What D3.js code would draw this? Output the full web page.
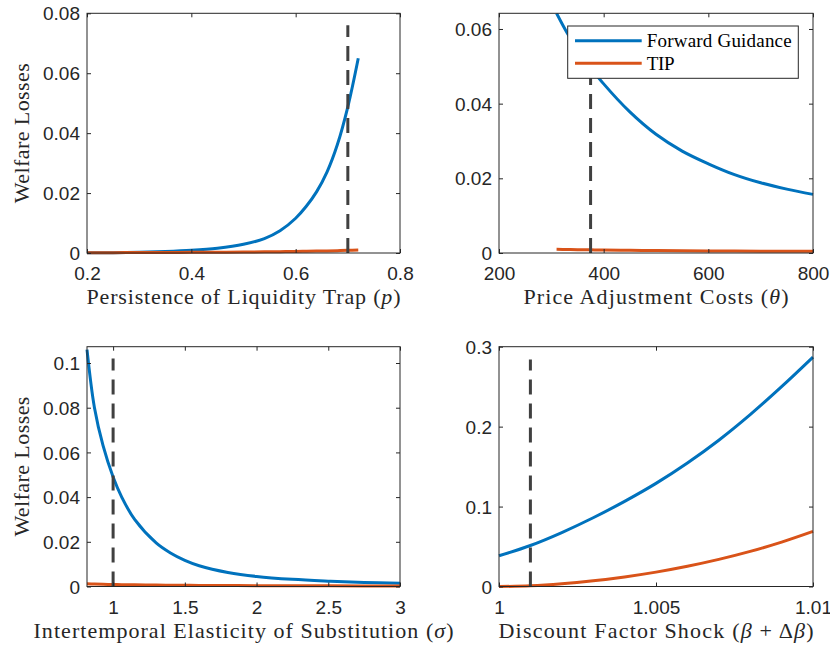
<!DOCTYPE html>
<html>
<head>
<meta charset="utf-8">
<script src="https://cdn.jsdelivr.net/npm/d3@7"></script>
<style>
  body { margin: 0; background: #fff; }
  svg { display: block; }
  .tick text { font-family: 'Liberation Sans', Arial, sans-serif; font-size: 19px; fill: #262626; }
  .tick line { stroke: #262626; stroke-width: 1; }
  .label { font-family: 'Liberation Serif', 'Times New Roman', serif; font-size: 22px; fill: #262626; }
  .legend text { font-family: 'Liberation Serif', 'Times New Roman', serif; font-size: 19px; fill: #000; }
</style>
</head>
<body>
<svg id="chart" width="830" height="648"></svg>
<script>
// panel 1: persistence of liquidity trap
const persistence = [0.20, 0.25, 0.30, 0.35, 0.40, 0.45, 0.50, 0.54, 0.57, 0.60, 0.62, 0.64, 0.66, 0.68, 0.70, 0.72];
const persistenceFG = [0.00006, 0.00012, 0.00025, 0.0005, 0.0009, 0.0016, 0.0029, 0.0048, 0.0074, 0.0116, 0.0155, 0.0204, 0.0270, 0.0362, 0.0488, 0.0650];
const persistenceTIP = [0.0001, 0.00012, 0.00015, 0.00018, 0.00022, 0.00027, 0.00033, 0.00039, 0.00045, 0.00052, 0.00057, 0.00063, 0.0007, 0.00078, 0.00088, 0.001];
const persistenceXTicks = [0.2, 0.4, 0.6, 0.8];
const persistenceXLabels = ['0.2', '0.4', '0.6', '0.8'];
const persistenceYTicks = [0, 0.02, 0.04, 0.06, 0.08];
const persistenceYLabels = ['0', '0.02', '0.04', '0.06', '0.08'];

// panel 2: price adjustment costs
const theta = [310, 330, 350, 375, 400, 450, 500, 550, 600, 650, 700, 750, 800];
const thetaFG = [0.0642, 0.0590, 0.0545, 0.0497, 0.0453, 0.0378, 0.0318, 0.0273, 0.0239, 0.0210, 0.0188, 0.0171, 0.0157];
const thetaTIP = [0.0010, 0.00095, 0.0009, 0.00085, 0.0008, 0.00072, 0.00066, 0.0006, 0.00056, 0.00053, 0.0005, 0.00047, 0.00045];
const thetaXTicks = [200, 400, 600, 800];
const thetaXLabels = ['200', '400', '600', '800'];
const thetaYTicks = [0, 0.02, 0.04, 0.06];
const thetaYLabels = ['0', '0.02', '0.04', '0.06'];

// panel 3: intertemporal elasticity of substitution
const sigma = [0.818, 0.87, 0.93, 1.0, 1.06, 1.15, 1.3, 1.4, 1.5, 1.6, 1.8, 2.0, 2.25, 2.5, 2.75, 3.0];
const sigmaFG = [0.106, 0.080, 0.063, 0.049, 0.040, 0.030, 0.0195, 0.0150, 0.0117, 0.0093, 0.0063, 0.0045, 0.0032, 0.0024, 0.0018, 0.0015];
const sigmaTIP = [0.0012, 0.0011, 0.001, 0.0009, 0.00082, 0.00074, 0.00064, 0.00058, 0.00054, 0.0005, 0.00043, 0.00038, 0.00033, 0.00029, 0.00026, 0.00023];
const sigmaXTicks = [1, 1.5, 2, 2.5, 3];
const sigmaXLabels = ['1', '1.5', '2', '2.5', '3'];
const sigmaYTicks = [0, 0.02, 0.04, 0.06, 0.08, 0.1];
const sigmaYLabels = ['0', '0.02', '0.04', '0.06', '0.08', '0.1'];

// panel 4: discount factor shock
const beta = [1.000, 1.001, 1.002, 1.003, 1.004, 1.005, 1.006, 1.007, 1.008, 1.009, 1.010];
const betaFG = [0.0384, 0.0513, 0.0675, 0.0860, 0.1065, 0.1290, 0.1545, 0.1830, 0.2150, 0.2500, 0.2870];
const betaTIP = [0, 0.0008, 0.0033, 0.0071, 0.0120, 0.0180, 0.0253, 0.0339, 0.0439, 0.0555, 0.0689];
const betaXTicks = [1, 1.005, 1.01];
const betaXLabels = ['1', '1.005', '1.01'];
const betaYTicks = [0, 0.1, 0.2, 0.3];
const betaYLabels = ['0', '0.1', '0.2', '0.3'];

// calibrated values (dashed markers) and their heights
const markerX = [0.7, 375, 1, 1.001];
const markerTop = [0.076, 0.0606, 0.102, 0.284];

const seriesNames = ['Forward Guidance', 'TIP'];
const colors = ['#0072BD', '#D95319'];

const svg = d3.select('#chart');

function createPanel(cfg, idx) {
    const { left, right, top, bottom } = cfg.frame;
    const g = svg.append('g');

    const xscale = d3.scaleLinear().domain(cfg.xDomain).range([left, right]);
    const yscale = d3.scaleLinear().domain(cfg.yDomain).range([bottom, top]);

    // clip so curves stop at the box
    const clipId = 'clip' + idx;
    g.append('clipPath').attr('id', clipId)
        .append('rect')
        .attr('x', left - 2).attr('y', top)
        .attr('width', right - left + 4).attr('height', bottom - top + 3);

    const line = d3.line()
        .x((d) => xscale(d[0]))
        .y((d) => yscale(d[1]))
        .curve(d3.curveCatmullRom.alpha(0.5));

    const plot = g.append('g').attr('clip-path', `url(#${clipId})`);
    cfg.series.forEach((ys, i) => {
        plot.append('path')
            .datum(cfg.x.map((v, j) => [v, ys[j]]))
            .attr('d', line)
            .attr('fill', 'none')
            .attr('stroke', colors[i])
            .attr('stroke-width', 3);
    });

    // dashed vertical marker
    g.append('line')
        .attr('x1', xscale(markerX[idx])).attr('x2', xscale(markerX[idx]))
        .attr('y1', yscale(0)).attr('y2', yscale(markerTop[idx]))
        .attr('stroke', '#404040')
        .attr('stroke-width', 3)
        .attr('stroke-dasharray', '15,9');

    // axes, ticks inward on all four sides
    const fmt = (labels) => (d, i) => labels[i];
    g.append('g')
        .attr('class', 'xaxis')
        .attr('transform', `translate(0,${bottom})`)
        .call(d3.axisBottom(xscale).tickValues(cfg.xTicks).tickFormat(fmt(cfg.xLabels))
            .tickSizeInner(-4).tickSizeOuter(0).tickPadding(14));
    g.append('g')
        .attr('transform', `translate(0,${top})`)
        .call(d3.axisTop(xscale).tickValues(cfg.xTicks).tickFormat('')
            .tickSizeInner(-4).tickSizeOuter(0));
    g.append('g')
        .attr('class', 'yaxis')
        .attr('transform', `translate(${left},0)`)
        .call(d3.axisLeft(yscale).tickValues(cfg.yTicks).tickFormat(fmt(cfg.yLabels))
            .tickSizeInner(-4).tickSizeOuter(0).tickPadding(7));
    g.append('g')
        .attr('transform', `translate(${right},0)`)
        .call(d3.axisRight(yscale).tickValues(cfg.yTicks).tickFormat('')
            .tickSizeInner(-4).tickSizeOuter(0));
    g.selectAll('.domain').remove();
    g.selectAll('.xaxis .tick text').attr('dy', '0.71em');
    g.selectAll('.yaxis .tick text').attr('dy', '0.35em');

    // box
    g.append('rect')
        .attr('x', left).attr('y', top)
        .attr('width', right - left).attr('height', bottom - top)
        .attr('fill', 'none')
        .attr('stroke', '#262626')
        .attr('stroke-width', 1);

    // x label
    const xl = g.append('text').attr('class', 'label')
        .attr('x', (left + right) / 2).attr('y', bottom + 51)
        .attr('text-anchor', 'middle')
        .attr('textLength', cfg.xLabelWidth)
        .attr('lengthAdjust', 'spacing');
    cfg.xLabel.forEach((part) => {
        xl.append('tspan').text(part[0]).style('font-style', part[1] ? 'italic' : 'normal');
    });

    if (cfg.yLabel) {
        g.append('text').attr('class', 'label')
            .attr('transform', `translate(21,${(top + bottom) / 2}) rotate(-90)`)
            .attr('text-anchor', 'middle')
            .attr('dy', '0.35em')
            .attr('textLength', 140)
            .attr('lengthAdjust', 'spacing')
            .text(cfg.yLabel);
    }
    return { g, xscale, yscale };
}

const leftFrame = { left: 87, right: 400 };
const rightFrame = { left: 499, right: 813 };
const topRow = { top: 13.3, bottom: 253 };
const bottomRow = { top: 346.7, bottom: 586.5 };

const panels = [
    {
        frame: { ...leftFrame, ...topRow }, xDomain: [0.2, 0.8], yDomain: [0, 0.08],
        x: persistence, series: [persistenceFG, persistenceTIP],
        xTicks: persistenceXTicks, xLabels: persistenceXLabels, yTicks: persistenceYTicks, yLabels: persistenceYLabels,
        xLabel: [['Persistence of Liquidity Trap (', false], ['p', true], [')', false]], xLabelWidth: 314,
        yLabel: 'Welfare Losses'
    },
    {
        frame: { ...rightFrame, ...topRow }, xDomain: [200, 800], yDomain: [0, 0.0642],
        x: theta, series: [thetaFG, thetaTIP],
        xTicks: thetaXTicks, xLabels: thetaXLabels, yTicks: thetaYTicks, yLabels: thetaYLabels,
        xLabel: [['Price Adjustment Costs (', false], ['θ', true], [')', false]], xLabelWidth: 265
    },
    {
        frame: { ...leftFrame, ...bottomRow }, xDomain: [0.818, 3], yDomain: [0, 0.1073],
        x: sigma, series: [sigmaFG, sigmaTIP],
        xTicks: sigmaXTicks, xLabels: sigmaXLabels, yTicks: sigmaYTicks, yLabels: sigmaYLabels,
        xLabel: [['Intertemporal Elasticity of Substitution (', false], ['σ', true], [')', false]], xLabelWidth: 420,
        yLabel: 'Welfare Losses'
    },
    {
        frame: { ...rightFrame, ...bottomRow }, xDomain: [1, 1.01], yDomain: [0, 0.3],
        x: beta, series: [betaFG, betaTIP],
        xTicks: betaXTicks, xLabels: betaXLabels, yTicks: betaYTicks, yLabels: betaYLabels,
        xLabel: [['Discount Factor Shock (', false], ['β', true], [' + Δ', false], ['β', true], [')', false]], xLabelWidth: 315
    }
];

panels.forEach((cfg, i) => createPanel(cfg, i));

// legend in panel 2
const legend = svg.append('g').attr('class', 'legend');
legend.append('rect')
    .attr('x', 567.7).attr('y', 26)
    .attr('width', 230.6).attr('height', 52.3)
    .attr('fill', '#fff')
    .attr('stroke', '#262626')
    .attr('stroke-width', 1);
const legendWidths = [145, 28];
seriesNames.forEach((name, i) => {
    const y = 40.7 + i * 22.6;
    legend.append('line')
        .attr('x1', 575).attr('x2', 641.7)
        .attr('y1', y).attr('y2', y)
        .attr('stroke', colors[i]).attr('stroke-width', 3);
    legend.append('text')
        .attr('x', 646.7).attr('y', y)
        .attr('dy', '0.35em')
        .attr('textLength', legendWidths[i])
        .attr('lengthAdjust', 'spacing')
        .text(name);
});
</script>
</body>
</html>
